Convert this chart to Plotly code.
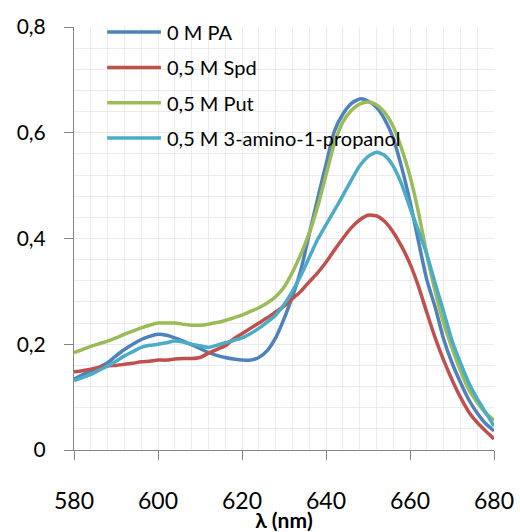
import plotly.graph_objects as go

wavelength = list(range(580, 681, 2))

pa_0 = [0.134, 0.142, 0.150, 0.157, 0.165, 0.178, 0.190, 0.200, 0.209, 0.215,
        0.219, 0.217, 0.212, 0.206, 0.199, 0.192, 0.184, 0.179, 0.175, 0.172,
        0.170, 0.170, 0.175, 0.188, 0.212, 0.248, 0.290, 0.340, 0.408, 0.475,
        0.540, 0.603, 0.635, 0.655, 0.664, 0.660, 0.648, 0.625, 0.590, 0.535,
        0.470, 0.395, 0.322, 0.270, 0.210, 0.165, 0.128, 0.095, 0.070, 0.050,
        0.036]

spd_05 = [0.148, 0.150, 0.153, 0.156, 0.159, 0.160, 0.162, 0.164, 0.167, 0.168,
          0.170, 0.170, 0.172, 0.173, 0.173, 0.175, 0.183, 0.190, 0.197, 0.210,
          0.220, 0.230, 0.240, 0.250, 0.261, 0.272, 0.286, 0.300, 0.318, 0.335,
          0.355, 0.378, 0.400, 0.420, 0.435, 0.444, 0.443, 0.432, 0.412, 0.385,
          0.352, 0.310, 0.260, 0.212, 0.170, 0.133, 0.100, 0.072, 0.052, 0.036,
          0.021]

put_05 = [0.184, 0.190, 0.196, 0.201, 0.206, 0.212, 0.219, 0.225, 0.231, 0.236,
          0.240, 0.240, 0.240, 0.238, 0.236, 0.236, 0.238, 0.241, 0.245, 0.250,
          0.255, 0.262, 0.269, 0.278, 0.290, 0.308, 0.336, 0.370, 0.410, 0.460,
          0.520, 0.580, 0.620, 0.642, 0.654, 0.658, 0.653, 0.638, 0.612, 0.570,
          0.518, 0.450, 0.370, 0.300, 0.240, 0.193, 0.150, 0.114, 0.090, 0.070,
          0.056]

amino_05 = [0.131, 0.137, 0.143, 0.151, 0.159, 0.168, 0.178, 0.186, 0.194, 0.198,
            0.200, 0.203, 0.206, 0.204, 0.200, 0.197, 0.194, 0.198, 0.203, 0.207,
            0.212, 0.220, 0.230, 0.242, 0.255, 0.275, 0.300, 0.330, 0.364, 0.398,
            0.426, 0.453, 0.481, 0.510, 0.537, 0.555, 0.563, 0.557, 0.537, 0.503,
            0.458, 0.415, 0.370, 0.315, 0.262, 0.207, 0.165, 0.127, 0.097, 0.071,
            0.045]

series_names = ["0 M PA", "0,5 M Spd", "0,5 M Put", "0,5 M 3-amino-1-propanol"]
series_values = [pa_0, spd_05, put_05, amino_05]
series_colors = ["#4F81BD", "#C0504D", "#9BBB59", "#4BACC6"]

x_ticks = [580, 600, 620, 640, 660, 680]
y_ticks = [0, 0.2, 0.4, 0.6, 0.8]

fig = go.Figure()
for name, vals, col in zip(series_names, series_values, series_colors):
    fig.add_trace(go.Scatter(x=wavelength, y=vals, mode="lines", name=name,
                             line=dict(color=col, width=3.5, shape="spline", smoothing=0.6),
                             showlegend=False))

# Legend drawn as layout shapes + text annotations
leg_x0, leg_x1, leg_tx = 0.079, 0.207, 0.217
leg_y_start, leg_step = 0.988, 0.0835
for i, (name, col) in enumerate(zip(series_names, series_colors)):
    yy = leg_y_start - i * leg_step
    fig.add_shape(type="line", xref="paper", yref="paper", x0=leg_x0, x1=leg_x1,
                  y0=yy, y1=yy, line=dict(color=col, width=3.5))
    fig.add_annotation(xref="paper", yref="paper", x=leg_tx, y=yy, text=name,
                       showarrow=False, xanchor="left", yanchor="middle",
                       font=dict(family="Lato", size=20, color="#000000"))

grid_col = "#EBEBEB"
axis_col = "#868686"

fig.update_layout(
    width=520, height=532,
    margin=dict(l=74, r=26, t=27, b=82, autoexpand=False),
    paper_bgcolor="white", plot_bgcolor="white",
    separators=", ",
    font=dict(family="Lato", color="#000000"),
    xaxis=dict(range=[580, 680], tickvals=x_ticks, showgrid=True, gridcolor=grid_col,
               minor=dict(dtick=4, tick0=580, showgrid=True, gridcolor=grid_col, ticks=""),
               showline=True, linecolor=axis_col, linewidth=1,
               ticks="outside", ticklen=9, tickcolor=axis_col,
               tickfont=dict(size=23, family="Lato"), ticklabelstandoff=21,
               zeroline=False, automargin=False,
               title=dict(text="<b>λ (nm)</b>", font=dict(size=21, family="Lato"), standoff=4)),
    yaxis=dict(range=[0, 0.8], tickvals=y_ticks, showgrid=True, gridcolor=grid_col,
               minor=dict(dtick=0.04, tick0=0, showgrid=True, gridcolor=grid_col, ticks=""),
               showline=True, linecolor=axis_col, linewidth=1,
               ticks="outside", ticklen=9, tickcolor=axis_col,
               tickfont=dict(size=21, family="Lato"), ticklabelstandoff=14,
               zeroline=False, automargin=False),
)

fig.write_html("out.html")
